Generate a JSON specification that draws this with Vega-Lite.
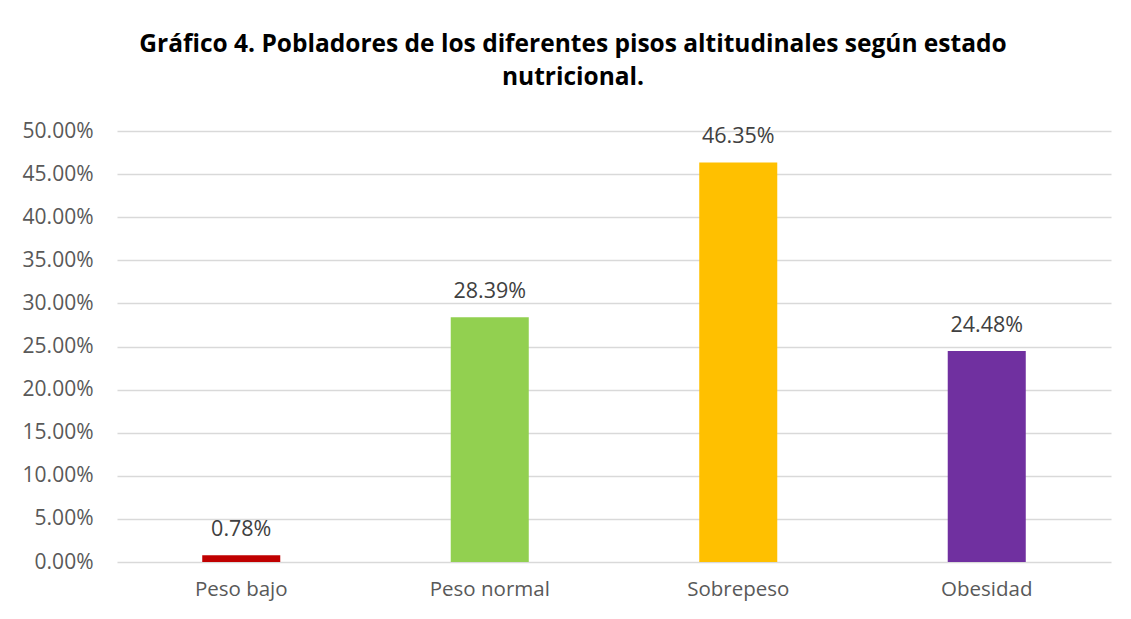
{
  "$schema": "https://vega.github.io/schema/vega-lite/v6.json",
  "width": 994,
  "height": 431,
  "autosize": {"type": "none"},
  "padding": {"left": 117, "top": 131, "right": 20, "bottom": 57},
  "background": "white",
  "title": {
    "text": ["Gráfico 4. Pobladores de los diferentes pisos altitudinales según estado", "nutricional."],
    "font": "Open Sans",
    "fontSize": 24.5,
    "fontWeight": "bold",
    "color": "#000000",
    "anchor": "middle",
    "dx": -41,
    "offset": 30,
    "lineHeight": 33
  },
  "data": {
    "values": [
      {"categoria": "Peso bajo", "valor": 0.0078, "color": "#C00000"},
      {"categoria": "Peso normal", "valor": 0.2839, "color": "#92D050"},
      {"categoria": "Sobrepeso", "valor": 0.4635, "color": "#FFC000"},
      {"categoria": "Obesidad", "valor": 0.2448, "color": "#7030A0"}
    ]
  },
  "config": {
    "view": {"stroke": null},
    "axis": {"labelFont": "Open Sans", "labelColor": "#595959", "labelOverlap": false}
  },
  "encoding": {
    "x": {
      "field": "categoria",
      "type": "nominal",
      "sort": null,
      "scale": {"paddingInner": 0.686, "paddingOuter": 0.343},
      "axis": {"title": null, "labelAngle": 0, "ticks": false, "domain": false, "labelPadding": 17, "labelFontSize": 20.5}
    },
    "y": {
      "field": "valor",
      "type": "quantitative",
      "scale": {"domain": [0, 0.5]},
      "axis": {
        "title": null,
        "format": ".2%",
        "values": [0, 0.05, 0.1, 0.15, 0.2, 0.25, 0.3, 0.35, 0.4, 0.45, 0.5],
        "ticks": false,
        "domain": false,
        "labelPadding": 24,
        "labelFontSize": 21,
        "gridColor": "#d9d9d9",
        "gridWidth": 1.5
      }
    }
  },
  "layer": [
    {
      "mark": {"type": "bar"},
      "encoding": {
        "color": {"field": "color", "type": "nominal", "scale": null}
      }
    },
    {
      "mark": {"type": "text", "baseline": "alphabetic", "dy": -19, "font": "Open Sans", "fontSize": 21.5, "color": "#404040"},
      "encoding": {
        "text": {"field": "valor", "type": "quantitative", "format": ".2%"}
      }
    }
  ]
}
